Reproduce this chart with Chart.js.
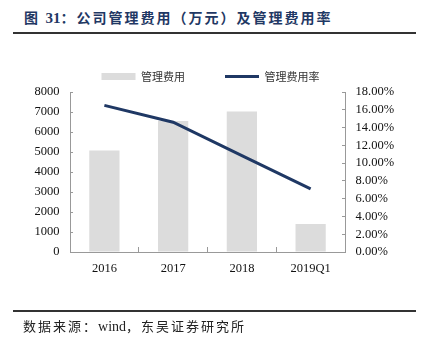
<!DOCTYPE html>
<html>
<head>
<meta charset="utf-8">
<script src="https://cdn.jsdelivr.net/npm/chart.js@4/dist/chart.umd.min.js"></script>
<style>
  body { margin: 0; background: #fff; }
  #wrap { position: relative; width: 421px; height: 344px; overflow: hidden; }
  #title { position: absolute; left: 24px; top: 8px; line-height: 20px; font-size: 14px; font-weight: bold;
           letter-spacing: 2px; color: #1f3864; font-family: "Liberation Serif", "Noto Sans CJK SC", serif; white-space: nowrap; }
  .rule { position: absolute; left: 13px; width: 403px; height: 2px; background: #333; }
  #foot { position: absolute; left: 23px; top: 318px; line-height: 18px; font-size: 13px; letter-spacing: 2px;
          color: #222; font-family: "Liberation Serif", "Noto Sans CJK SC", serif; white-space: nowrap; }
  .lat { letter-spacing: 0; }
  #c { position: absolute; left: 0; top: 0; }
</style>
</head>
<body>
<div id="wrap">
  <div id="title">图 <span class="lat" style="font-size:15px">31</span>：公司管理费用（万元）及管理费用率</div>
  <div class="rule" style="top:32px"></div>
  <canvas id="c" width="421" height="344"></canvas>
  <div class="rule" style="top:310px"></div>
  <div id="foot">数据来源：<span class="lat" style="font-size:14px">wind</span>，东吴证券研究所</div>
</div>
<script>
var categories = ['2016', '2017', '2018', '2019Q1'];
var expense = [5080, 6550, 7030, 1400];      // 管理费用（万元）
var expenseRate = [16.5, 14.6, 10.85, 7.1];  // 管理费用率（%）

var axisColor = '#999';
var tickFont = { family: 'Liberation Serif', size: 12.5 };

new Chart(document.getElementById('c'), {
    data: {
        labels: categories,
        datasets: [
            {
                type: 'line',
                label: '管理费用率',
                data: expenseRate,
                yAxisID: 'y1',
                borderColor: '#1f3864',
                backgroundColor: '#1f3864',
                borderWidth: 3,
                pointRadius: 0,
                pointStyle: 'line',
                tension: 0
            },
            {
                type: 'bar',
                label: '管理费用',
                data: expense,
                yAxisID: 'y',
                backgroundColor: '#dcdcdc',
                pointStyle: 'rect',
                barPercentage: 0.44,
                categoryPercentage: 1
            }
        ]
    },
    options: {
        responsive: false,
        animation: false,
        layout: { padding: { top: 31, left: 0, right: 0, bottom: 0 } },
        plugins: {
            tooltip: { enabled: false },
            legend: {
                labels: {
                    usePointStyle: true,
                    pointStyleWidth: 34,
                    boxHeight: 7,
                    padding: 40,
                    color: '#333',
                    font: { family: 'Noto Sans CJK SC', size: 11 },
                    sort: function(a, b) { return b.datasetIndex - a.datasetIndex; }
                }
            }
        },
        scales: {
            x: {
                offset: true,
                grid: { offset: true, drawOnChartArea: false, tickLength: -5, color: axisColor },
                border: { color: axisColor },
                ticks: { color: '#111', font: tickFont, padding: 14, maxRotation: 0 },
                afterFit: function(s) { s.height = 92; }
            },
            y: {
                position: 'left',
                min: 0, max: 8000,
                ticks: {
                    stepSize: 1000, autoSkip: false, color: '#111', font: tickFont, padding: 13.5,
                    callback: function(v) { return String(v); }
                },
                grid: { drawOnChartArea: false, tickLength: -3, color: axisColor },
                border: { color: axisColor },
                afterFit: function(s) { s.width = 70; }
            },
            y1: {
                position: 'right',
                min: 0, max: 18,
                ticks: {
                    stepSize: 2, autoSkip: false, color: '#111', font: tickFont, padding: 13.5,
                    callback: function(v) { return v.toFixed(2) + '%'; }
                },
                grid: { drawOnChartArea: false, tickLength: -3, color: axisColor },
                border: { color: axisColor },
                afterFit: function(s) { s.width = 76; }
            }
        }
    }
});
</script>
</body>
</html>
